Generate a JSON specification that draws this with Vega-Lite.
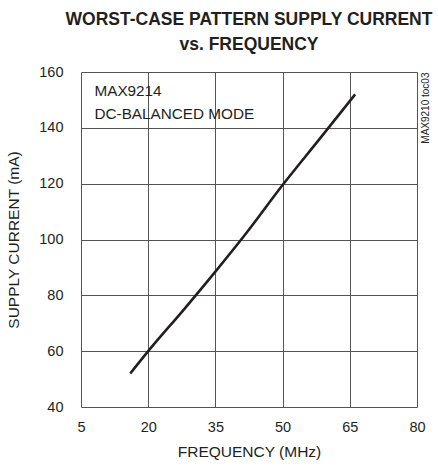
{
  "$schema": "https://vega.github.io/schema/vega-lite/v6.json",
  "width": 336,
  "height": 335,
  "autosize": {"type": "none"},
  "padding": {"left": 81, "top": 72, "right": 21, "bottom": 63},
  "background": "white",
  "title": {
    "text": ["WORST-CASE PATTERN SUPPLY CURRENT", "vs. FREQUENCY"],
    "font": "Liberation Sans",
    "fontSize": 17.5,
    "fontWeight": "bold",
    "color": "#231f20",
    "anchor": "middle",
    "lineHeight": 25,
    "offset": 11
  },
  "config": {
    "view": {"stroke": null},
    "axis": {
      "labelFont": "Liberation Sans",
      "titleFont": "Liberation Sans",
      "labelFontSize": 14.5,
      "titleFontSize": 15.5,
      "labelColor": "#231f20",
      "titleColor": "#231f20",
      "titleFontWeight": "normal",
      "ticks": false,
      "domain": false,
      "gridColor": "#555555",
      "gridWidth": 1,
      "gridOpacity": 1
    }
  },
  "datasets": {
    "curve": [
      {"freq": 16.0, "current": 52},
      {"freq": 20.0, "current": 60},
      {"freq": 28.0, "current": 75},
      {"freq": 35.0, "current": 88.5},
      {"freq": 42.0, "current": 102.5},
      {"freq": 50.0, "current": 119.5},
      {"freq": 58.0, "current": 135.5},
      {"freq": 66.2, "current": 152}
    ],
    "note": [
      {"freq": 8.0, "current": 155.8, "label": "MAX9214\nDC-BALANCED MODE"}
    ]
  },
  "layer": [
    {
      "data": {"name": "curve"},
      "mark": {"type": "line", "color": "#231f20", "strokeWidth": 2.6, "interpolate": "monotone"},
      "encoding": {
        "x": {
          "field": "freq", "type": "quantitative",
          "scale": {"domain": [5, 80], "nice": false, "zero": false},
          "axis": {"values": [5, 20, 35, 50, 65, 80], "title": "FREQUENCY (MHz)", "labelPadding": 13, "titlePadding": 11, "labelFlush": false}
        },
        "y": {
          "field": "current", "type": "quantitative",
          "scale": {"domain": [40, 160], "nice": false, "zero": false},
          "axis": {"values": [40, 60, 80, 100, 120, 140, 160], "title": "SUPPLY CURRENT (mA)", "labelPadding": 18, "titlePadding": 17, "labelFlush": false}
        }
      }
    },
    {
      "mark": {"type": "rect", "fill": "white"},
      "encoding": {
        "x": {"datum": 5.4},
        "x2": {"datum": 45},
        "y": {"datum": 140.4, "axis": null},
        "y2": {"datum": 159.5}
      }
    },
    {
      "data": {"name": "note"},
      "mark": {"type": "text", "align": "left", "baseline": "top", "font": "Liberation Sans", "fontSize": 15.3, "lineHeight": 23, "lineBreak": "\n", "color": "#231f20"},
      "encoding": {
        "x": {"field": "freq", "type": "quantitative"},
        "y": {"field": "current", "type": "quantitative", "axis": null},
        "text": {"field": "label"}
      }
    },
    {
      "mark": {"type": "rect", "fill": null, "stroke": "#231f20", "strokeWidth": 2.6},
      "encoding": {
        "x": {"datum": 5},
        "x2": {"datum": 80},
        "y": {"datum": 40, "axis": null},
        "y2": {"datum": 160}
      }
    },
    {
      "mark": {"type": "rule", "opacity": 0},
      "encoding": {
        "y": {
          "datum": 100,
          "axis": {"orient": "right", "grid": false, "labels": false, "title": "MAX9210 toc03", "titleFontSize": 10, "titleAngle": 270, "titleAnchor": "end", "titlePadding": 8, "titleBaseline": "middle"}
        }
      }
    }
  ],
  "resolve": {"axis": {"y": "independent"}}
}
